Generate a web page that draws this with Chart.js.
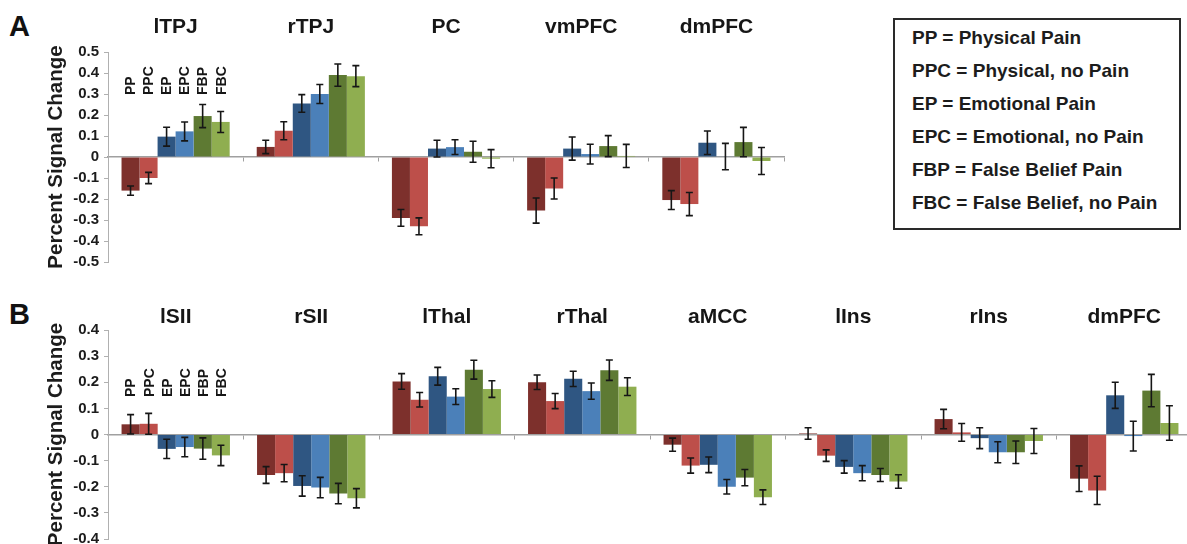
<!DOCTYPE html>
<html>
<head>
<meta charset="utf-8">
<script src="https://cdn.jsdelivr.net/npm/chart.js@4/dist/chart.umd.min.js"></script>
<style>
  html, body { margin: 0; padding: 0; background: #fff; }
  body { width: 1187px; height: 544px; overflow: hidden; position: relative; font-family: "Liberation Sans", Arial, sans-serif; }
  .panel { position: absolute; left: 0; }
  .letter { position: absolute; left: 9px; font-weight: bold; font-size: 29px; color: #111; }
  #key { position: absolute; left: 893px; top: 18px; width: 288px; height: 212px; box-sizing: border-box;
         border: 2.5px solid #2a2a2a; padding: 1px 0 0 17px; }
  #key div { font-weight: bold; font-size: 19px; line-height: 33px; color: #1c1c1c; white-space: nowrap; }
</style>
</head>
<body>
<div class="letter" style="top:10px">A</div>
<div class="letter" style="top:298px">B</div>
<div class="panel" style="top:0"><canvas id="chartA" width="800" height="280"></canvas></div>
<div class="panel" style="top:280px"><canvas id="chartB" width="1192" height="290"></canvas></div>
<div id="key"></div>

<script>
// conditions + colours
const conditions = ['PP', 'PPC', 'EP', 'EPC', 'FBP', 'FBC'];
const conditionNames = ['Physical Pain', 'Physical, no Pain', 'Emotional Pain', 'Emotional, no Pain', 'False Belief Pain', 'False Belief, no Pain'];
const colors = ['#7d302c', '#bd4f4a', '#2f5682', '#4b80b9', '#5e7a33', '#8fae50'];

// panel A
const regionsA = ['lTPJ', 'rTPJ', 'PC', 'vmPFC', 'dmPFC'];
const ticksA = [-0.5, 0.5];
const ppA  = [-0.16, 0.048, -0.29, -0.255, -0.205];
const ppcA = [-0.10, 0.125, -0.33, -0.15, -0.224];
const epA  = [0.097, 0.255, 0.04, 0.04, 0.068];
const epcA = [0.122, 0.30, 0.047, 0.014, 0.002];
const fbpA = [0.195, 0.39, 0.025, 0.052, 0.071];
const fbcA = [0.167, 0.385, -0.008, 0.005, -0.019];
const ppErrA  = [0.022, 0.032, 0.04, 0.06, 0.045];
const ppcErrA = [0.027, 0.043, 0.04, 0.05, 0.055];
const epErrA  = [0.045, 0.042, 0.04, 0.055, 0.056];
const epcErrA = [0.045, 0.045, 0.035, 0.047, 0.063];
const fbpErrA = [0.055, 0.053, 0.05, 0.05, 0.07];
const fbcErrA = [0.05, 0.05, 0.043, 0.055, 0.064];

// panel B
const regionsB = ['lSII', 'rSII', 'lThal', 'rThal', 'aMCC', 'lIns', 'rIns', 'dmPFC'];
const ticksB = [-0.4, 0.4];
const ppB  = [0.039, -0.155, 0.203, 0.20, -0.039, 0.004, 0.059, -0.169];
const ppcB = [0.041, -0.148, 0.133, 0.128, -0.119, -0.081, 0.008, -0.214];
const epB  = [-0.055, -0.197, 0.223, 0.213, -0.116, -0.124, -0.014, 0.15];
const epcB = [-0.048, -0.203, 0.145, 0.166, -0.20, -0.148, -0.068, -0.006];
const fbpB = [-0.054, -0.226, 0.248, 0.246, -0.165, -0.155, -0.068, 0.168];
const fbcB = [-0.08, -0.244, 0.174, 0.183, -0.24, -0.18, -0.025, 0.044];
const ppErrB  = [0.037, 0.032, 0.03, 0.028, 0.025, 0.022, 0.037, 0.049];
const ppcErrB = [0.04, 0.033, 0.028, 0.029, 0.029, 0.022, 0.034, 0.054];
const epErrB  = [0.037, 0.039, 0.034, 0.029, 0.03, 0.024, 0.04, 0.05];
const epcErrB = [0.037, 0.039, 0.03, 0.031, 0.028, 0.029, 0.04, 0.057];
const fbpErrB = [0.041, 0.039, 0.036, 0.039, 0.031, 0.025, 0.043, 0.062];
const fbcErrB = [0.039, 0.037, 0.032, 0.034, 0.028, 0.026, 0.048, 0.066];

const FONT = '"Liberation Sans", Arial, sans-serif';

// key box
const key = document.getElementById('key');
conditions.forEach((c, i) => {
    const d = document.createElement('div');
    d.textContent = c + ' = ' + conditionNames[i];
    key.appendChild(d);
});

// error bars drawn through the y scale
const errorBars = {
    id: 'errorBars',
    afterDatasetsDraw(chart) {
        const ctx = chart.ctx;
        const y = chart.scales.y;
        ctx.save();
        ctx.strokeStyle = '#161616';
        ctx.lineWidth = 1.6;
        chart.data.datasets.forEach((ds, i) => {
            chart.getDatasetMeta(i).data.forEach((bar, j) => {
                const v = ds.data[j], e = ds.errors[j];
                const top = y.getPixelForValue(v + e);
                const bot = y.getPixelForValue(v - e);
                ctx.beginPath();
                ctx.moveTo(bar.x, top); ctx.lineTo(bar.x, bot);
                ctx.moveTo(bar.x - 3.5, top); ctx.lineTo(bar.x + 3.5, top);
                ctx.moveTo(bar.x - 3.5, bot); ctx.lineTo(bar.x + 3.5, bot);
                ctx.stroke();
            });
        });
        ctx.restore();
    }
};

// region names over each group, condition names over first group
const regionTitles = {
    id: 'regionTitles',
    afterDraw(chart, args, opts) {
        const ctx = chart.ctx;
        const x = chart.scales.x;
        ctx.save();
        ctx.fillStyle = '#161616';
        ctx.font = 'bold 21px ' + FONT;
        ctx.textAlign = 'center';
        ctx.textBaseline = 'alphabetic';
        chart.data.labels.forEach((lab, j) => {
            ctx.fillText(lab, x.getPixelForValue(j), chart.chartArea.top - opts.titleOffset);
        });
        ctx.font = 'bold 14px ' + FONT;
        ctx.textAlign = 'left';
        ctx.textBaseline = 'middle';
        chart.data.datasets.forEach((ds, i) => {
            const bar = chart.getDatasetMeta(i).data[0];
            ctx.save();
            ctx.translate(bar.x + 1, chart.chartArea.top + opts.labelOffset);
            ctx.rotate(-Math.PI / 2);
            ctx.fillText(ds.label, 0, 0);
            ctx.restore();
        });
        ctx.restore();
    }
};

function makeChart(id, regions, means, errs, range, pad, titleOffset, labelOffset) {
    return new Chart(document.getElementById(id), {
        type: 'bar',
        data: {
            labels: regions,
            datasets: conditions.map((c, i) => ({
                label: c,
                data: means[i],
                errors: errs[i],
                backgroundColor: colors[i],
                borderWidth: 0,
                categoryPercentage: 0.8,
                barPercentage: 1.0
            }))
        },
        options: {
            responsive: false,
            animation: false,
            layout: { padding: pad },
            plugins: {
                legend: { display: false },
                tooltip: { enabled: false },
                regionTitles: { titleOffset: titleOffset, labelOffset: labelOffset }
            },
            scales: {
                x: {
                    position: { y: 0 },
                    ticks: { display: false },
                    grid: { drawOnChartArea: false, tickLength: 4, color: '#a0a0a0' },
                    border: { color: '#a0a0a0', width: 1.5 },
                    afterFit: s => { s.height = 0; }
                },
                y: {
                    min: range[0],
                    max: range[1],
                    ticks: { stepSize: 0.1, padding: 5, color: '#1c1c1c', font: { family: FONT, size: 15, weight: 'bold' } },
                    grid: { drawOnChartArea: false, tickLength: 4, color: '#b0b0b0' },
                    border: { color: '#b0b0b0' },
                    title: { display: true, text: 'Percent Signal Change', color: '#1c1c1c', font: { family: FONT, size: 20.5, weight: 'bold' } },
                    afterFit: s => { s.width = 68; }
                }
            }
        },
        plugins: [errorBars, regionTitles]
    });
}

makeChart('chartA', regionsA,
    [ppA, ppcA, epA, epcA, fbpA, fbcA],
    [ppErrA, ppcErrA, epErrA, epcErrA, fbpErrA, fbcErrA],
    ticksA, { top: 52, left: 40, right: 16, bottom: 18 }, 19, 43);

makeChart('chartB', regionsB,
    [ppB, ppcB, epB, epcB, fbpB, fbcB],
    [ppErrB, ppcErrB, epErrB, epcErrB, fbpErrB, fbcErrB],
    ticksB, { top: 50, left: 40, right: 0, bottom: 31 }, 7, 67);
</script>
</body>
</html>
